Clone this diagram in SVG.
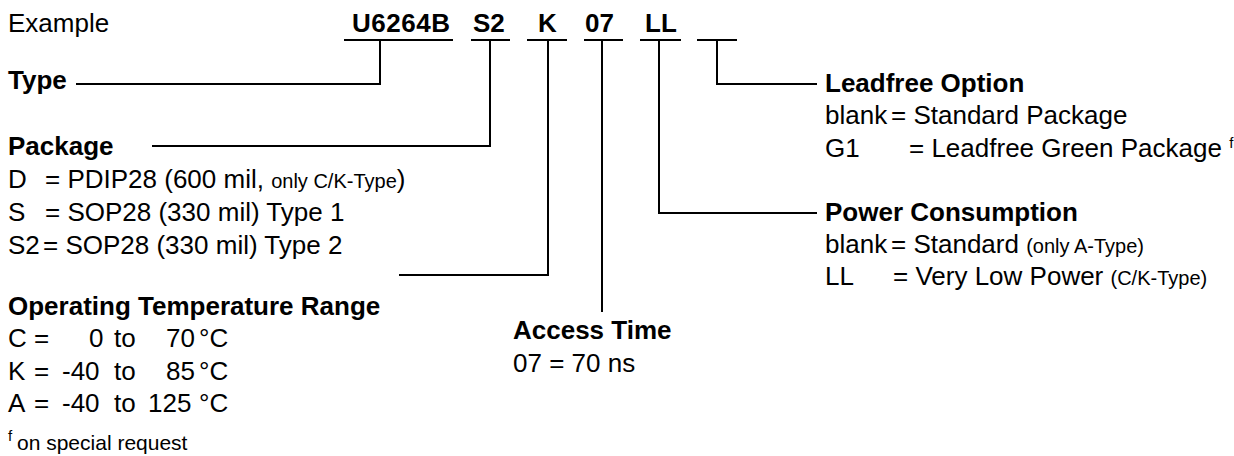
<svg xmlns="http://www.w3.org/2000/svg" width="1234" height="456" viewBox="0 0 1234 456">
<style>
text{font-family:"Liberation Sans",Arial,sans-serif;font-size:26px;fill:#000}
.b{font-weight:bold}
.s{font-size:20px}
.f{font-size:15px}
.ln{stroke:#000;stroke-width:2;fill:none}
</style>
<rect width="1234" height="456" fill="#fff"/>
<g id="header">
<text x="8" y="32">Example</text>
<text class="b" x="352" y="32" textLength="98">U6264B</text>
<text class="b" x="473" y="32">S2</text>
<text class="b" x="538" y="32">K</text>
<text class="b" x="585" y="32">07</text>
<text class="b" x="645" y="32">LL</text>
</g>
<g id="connectors">
<path class="ln" d="M344 40H453M471 40H510M527 40H567M584 40H623M640 40H681M697 40H737"/>
<path class="ln" d="M380 40V84H76"/>
<path class="ln" d="M490 40V146H152"/>
<path class="ln" d="M548 40V275H399"/>
<path class="ln" d="M602 40V312"/>
<path class="ln" d="M659 40V213H817"/>
<path class="ln" d="M717 40V84H817"/>
</g>
<g id="type">
<text class="b" x="8" y="89">Type</text>
</g>
<g id="package">
<text class="b" x="8" y="155">Package</text>
<text y="188"><tspan x="8">D</tspan><tspan x="45">= PDIP28 (600 mil, </tspan><tspan class="s">only C/K-Type</tspan>)</text>
<text y="221"><tspan x="8">S</tspan><tspan x="45">= SOP28 (330 mil) Type 1</tspan></text>
<text y="254"><tspan x="8">S2</tspan><tspan x="43">= SOP28 (330 mil) Type 2</tspan></text>
</g>
<g id="temperature">
<text class="b" x="8" y="315">Operating Temperature Range</text>
<text y="347"><tspan x="8">C</tspan><tspan x="34">=</tspan><tspan x="89">0</tspan><tspan x="114">to</tspan><tspan x="166">70</tspan><tspan x="199">°C</tspan></text>
<text y="380"><tspan x="8">K</tspan><tspan x="34">=</tspan><tspan x="62">-40</tspan><tspan x="114">to</tspan><tspan x="166">85</tspan><tspan x="199">°C</tspan></text>
<text y="412"><tspan x="8">A</tspan><tspan x="34">=</tspan><tspan x="62">-40</tspan><tspan x="114">to</tspan><tspan x="148">125</tspan><tspan x="199">°C</tspan></text>
</g>
<g id="access">
<text class="b" x="513" y="339">Access Time</text>
<text x="513" y="372">07 = 70 ns</text>
</g>
<g id="leadfree">
<text class="b" x="825" y="92">Leadfree Option</text>
<text y="124"><tspan x="825">blank</tspan><tspan x="891">= Standard Package</tspan></text>
<text y="157"><tspan x="825">G1</tspan><tspan x="909">= Leadfree Green Package </tspan><tspan class="f" dy="-9">f</tspan></text>
</g>
<g id="power">
<text class="b" x="825" y="221">Power Consumption</text>
<text y="253"><tspan x="825">blank</tspan><tspan x="891">= Standard </tspan><tspan class="s">(only A-Type)</tspan></text>
<text y="285"><tspan x="825">LL</tspan><tspan x="893">= Very Low Power </tspan><tspan class="s">(C/K-Type)</tspan></text>
</g>
<g id="note">
<text y="450"><tspan class="f" x="8" dy="-9">f</tspan><tspan x="17" dy="9" style="font-size:21px">on special request</tspan></text>
</g>
</svg>
